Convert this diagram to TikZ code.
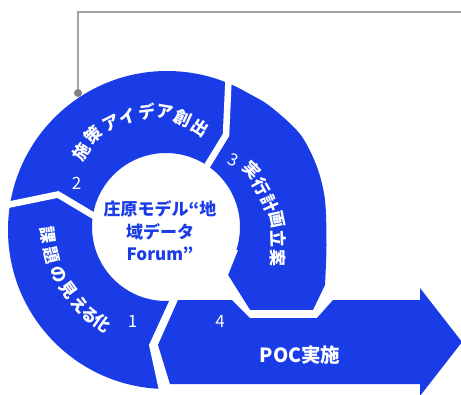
\documentclass[tikz,border=0pt]{standalone}
\usepackage{fontspec}
\newfontfamily\jp{Noto Sans CJK JP}
\definecolor{mainblue}{RGB}{26,60,230}
\definecolor{linegray}{RGB}{165,165,165}
\definecolor{dotgray}{RGB}{128,128,128}
\begin{document}
\begin{tikzpicture}[x=1pt,y=-1pt,
  segtext/.style={text=white,inner sep=0pt,font=\jp\bfseries\fontsize{17}{17}\selectfont},
  numtext/.style={text=white,inner sep=0pt,font=\jp\fontsize{17}{17}\selectfont},
  ctext/.style={text=mainblue,inner sep=0pt,align=center,font=\jp\bfseries\fontsize{17}{22.5}\selectfont},
  poctext/.style={text=white,inner sep=0pt,font=\jp\bfseries\fontsize{19.5}{19.5}\selectfont},
  gapline/.style={white,line width=6.5pt,line join=miter},
  leader/.style={linegray,line width=1.2pt}]
\useasboundingbox (0,0) rectangle (461,394);
\fill[white] (0,0) rectangle (461,394);
% ring
\fill[mainblue,even odd rule] (167,230) circle[radius=159pt] (166,227) circle[radius=74pt];
% spiral extension of segment 3
\fill[mainblue] plot[smooth] coordinates {(233,86) (267,104) (300,134) (317,167) (325,200) (326.5,245) (325,285)} -- (313,310) -- (250,310) -- (250,200) -- cycle;
% white mouth
\fill[white] (171,297) -- (149,345) -- (161,400) -- (345,400) -- (345,310) -- (250,310) -- (228,275) -- (238,250) -- (200,250) -- cycle;
% separators
\draw[gapline] (-10,208) -- (12,204) -- (58,194.5) -- (94,216) -- (115,229);
\draw[gapline] (229.5,60) -- (228.5,80) -- (226,135) -- (207,166) -- (195,185);
% arrow (segment 4)
\fill[mainblue] (178,300) -- (232,300) -- (250,318) -- (317,318) -- (333,300) -- (420,300) -- (420,288) -- (462,342) -- (420,396) -- (420,384) -- (170,384) -- (158,345) -- cycle;
% leader line
\coordinate (dot) at (78,93);
\coordinate (corner) at (78,12);
\coordinate (lineend) at (462,12);
\draw[leader] (dot) -- (corner) -- (lineend);
\fill[dotgray] (dot) circle (4pt);
% segment 2 text
\foreach \c/\x/\y/\r [count=\i] in {施/81.7/151.7/58, 策/93/135/44, ア/111.7/123/27, イ/128/116.7/18, デ/146.7/111.7/7, ア/165/111.7/-10, 創/183/118/-25, 出/200/128/-33}
  \node[segtext,rotate=\r] (sb\i) at (\x,\y) {\c};
% segment 3 text
\foreach \c/\x/\y/\r [count=\i] in {実/251.7/170/-45, 行/261.7/186.7/-61, 計/270/203.3/-66, 画/276.7/220/-78, 立/278.3/238.3/-88, 案/278.3/258.3/-90}
  \node[segtext,rotate=\r] (sc\i) at (\x,\y) {\c};
% segment 1 text
\foreach \c/\x/\y/\r [count=\i] in {課/48.3/235/-82, 題/51.7/255/-76, の/58.3/275/-64, 見/68.3/290/-54, え/80/305/-48, る/90/315/-40, 化/101.7/323.3/-35}
  \node[segtext,rotate=\r] (sa\i) at (\x,\y) {\c};
% numbers
\node[numtext] (n1) at (132.7,321.7) {1};
\node[numtext] (n2) at (76.7,183.3) {2};
\node[numtext,rotate=-25] (n3) at (233.3,160) {3};
\node[numtext] (n4) at (220,321.7) {4};
% centre and arrow labels
\node[ctext] (hub) at (160,231) {庄原モデル“地\\域データ\\Forum”};
\node[poctext] (poc) at (300,355) {POC実施};
\end{tikzpicture}
\end{document}
